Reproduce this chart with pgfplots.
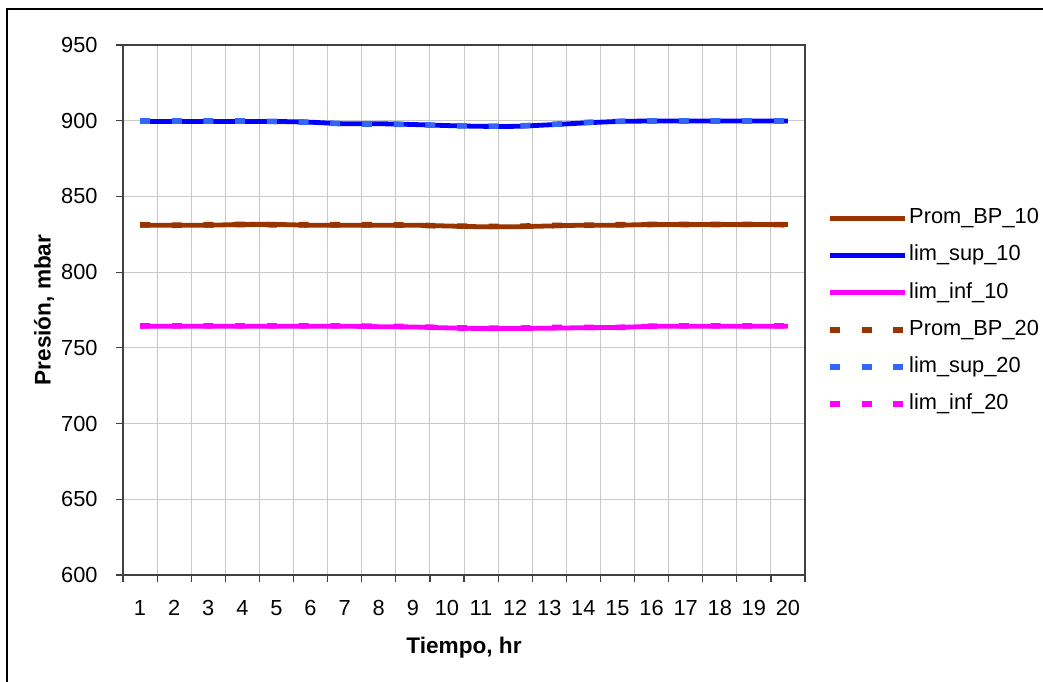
\documentclass[border=0pt]{standalone}
\usepackage{fontspec}
\setmainfont{Liberation Sans}
\usepackage{pgfplots}
\pgfplotsset{compat=1.18}
\definecolor{cbrown}{HTML}{993300}
\definecolor{cblue}{HTML}{0000FF}
\definecolor{clblue}{HTML}{3366FF}
\definecolor{cmag}{HTML}{FF00FF}
\definecolor{cgrid}{HTML}{C8C8C8}
\definecolor{caxis}{HTML}{404040}
\begin{document}
\begin{tikzpicture}
\path[use as bounding box] (0,0) rectangle (521.5pt,-340.5pt);
\draw[line width=1pt] (3.25pt,-345pt) -- (3.25pt,-4.25pt) -- (525pt,-4.25pt);
\begin{axis}[
  at={(61.5pt,-22.5pt)}, anchor=north west,
  scale only axis, width=341pt, height=265pt,
  xmin=0.5, xmax=20.5, ymin=600, ymax=950,
  xtick={1,...,20},
  major x tick style={draw=none},
  minor xtick={0.5,1.5,...,20.5},
  ytick={600,650,...,950},
  tick pos=left,
  tick align=outside,
  major tick length=3.5pt, minor tick length=3.5pt,
  tick style={caxis, line width=0.6pt},
  xminorgrids, ymajorgrids,
  major grid style={cgrid, line width=0.5pt},
  minor grid style={cgrid, line width=0.5pt},
  axis line style={caxis, line width=0.9pt},
  /pgf/number format/assume math mode=true,
  ticklabel style={font=\fontsize{10.9}{12}\selectfont},
  xticklabel style={anchor=north, inner sep=0pt, yshift=-9pt},
  yticklabel style={anchor=east, inner sep=0pt, xshift=-9pt},
  xlabel={\textbf{Tiempo, hr}},
  ylabel={\textbf{Presión, mbar}},
  label style={font=\fontsize{11.3}{13}\selectfont},
  xlabel style={at={(axis description cs:0.5,-0.1377)}, anchor=center},
  ylabel style={at={(axis description cs:-0.1158,0.5)}, anchor=center, rotate=0},
  legend style={at={(1.0323,0.693)}, anchor=north west, draw=none, fill=none,
    inner sep=0pt, outer sep=0pt, row sep=8.1pt,
    font=\fontsize{10.9}{13}\selectfont,
    nodes={inner sep=0pt, text height=8pt, text depth=2.5pt},
    /tikz/every odd column/.append style={column sep=0.8pt}},
  legend cell align=left,
  legend image code/.code={\draw[#1] (0pt,0pt) -- (37.5pt,0pt);},
]
\addplot[cbrown, line width=2.4pt, smooth] coordinates {
(1,831) (2,831) (3,831) (4,831.5) (5,831.5) (6,831) (7,831) (8,831) (9,831) (10,830.5)
(11,830) (12,830) (13,830.5) (14,831) (15,831) (16,831.5) (17,831.5) (18,831.5) (19,831.5) (20,831.5)};
\addlegendentry{Prom\_BP\_10}
\addplot[cblue, line width=2.4pt, smooth] coordinates {
(1,899.5) (2,899.5) (3,899.5) (4,899.5) (5,899.5) (6,899) (7,898) (8,898) (9,897.5) (10,896.8)
(11,896.3) (12,896.3) (13,897.3) (14,898.5) (15,899.5) (16,899.8) (17,899.8) (18,899.8) (19,899.8) (20,899.8)};
\addlegendentry{lim\_sup\_10}
\addplot[cmag, line width=2.4pt, smooth] coordinates {
(1,764.3) (2,764.3) (3,764.3) (4,764.3) (5,764.3) (6,764.3) (7,764.3) (8,764) (9,763.8) (10,763.2)
(11,762.8) (12,762.8) (13,763) (14,763.3) (15,763.5) (16,764.2) (17,764.3) (18,764.3) (19,764.3) (20,764.3)};
\addlegendentry{lim\_inf\_10}
\addplot[cbrown, line width=2.8pt, smooth, line cap=butt, dash pattern=on 5pt off 10.85pt] coordinates {
(1,831.3) (2,831) (3,831.3) (4,831.5) (5,831.3) (6,831.3) (7,831.3) (8,831.3) (9,831) (10,830.5)
(11,830.3) (12,830.3) (13,830.8) (14,831) (15,831.3) (16,831.5) (17,831.5) (18,831.5) (19,831.5) (20,831.3)};
\addlegendentry{Prom\_BP\_20}
\addplot[clblue, line width=2.8pt, smooth, line cap=butt, dash pattern=on 5pt off 10.85pt] coordinates {
(1,899.8) (2,899.8) (3,899.8) (4,899.8) (5,899.5) (6,899) (7,898) (8,897.8) (9,897.5) (10,896.8)
(11,896.5) (12,896.5) (13,897.5) (14,898.8) (15,899.6) (16,899.8) (17,899.8) (18,899.8) (19,899.8) (20,899.8)};
\addlegendentry{lim\_sup\_20}
\addplot[cmag, line width=2.8pt, smooth, line cap=butt, dash pattern=on 5pt off 10.85pt] coordinates {
(1,764.5) (2,764.5) (3,764.5) (4,764.5) (5,764.5) (6,764.5) (7,764.5) (8,764.3) (9,764) (10,763.3)
(11,763) (12,763) (13,763.5) (14,763.5) (15,763.5) (16,764.3) (17,764.5) (18,764.5) (19,764.5) (20,764.5)};
\addlegendentry{lim\_inf\_20}
\end{axis}
\end{tikzpicture}
\end{document}
